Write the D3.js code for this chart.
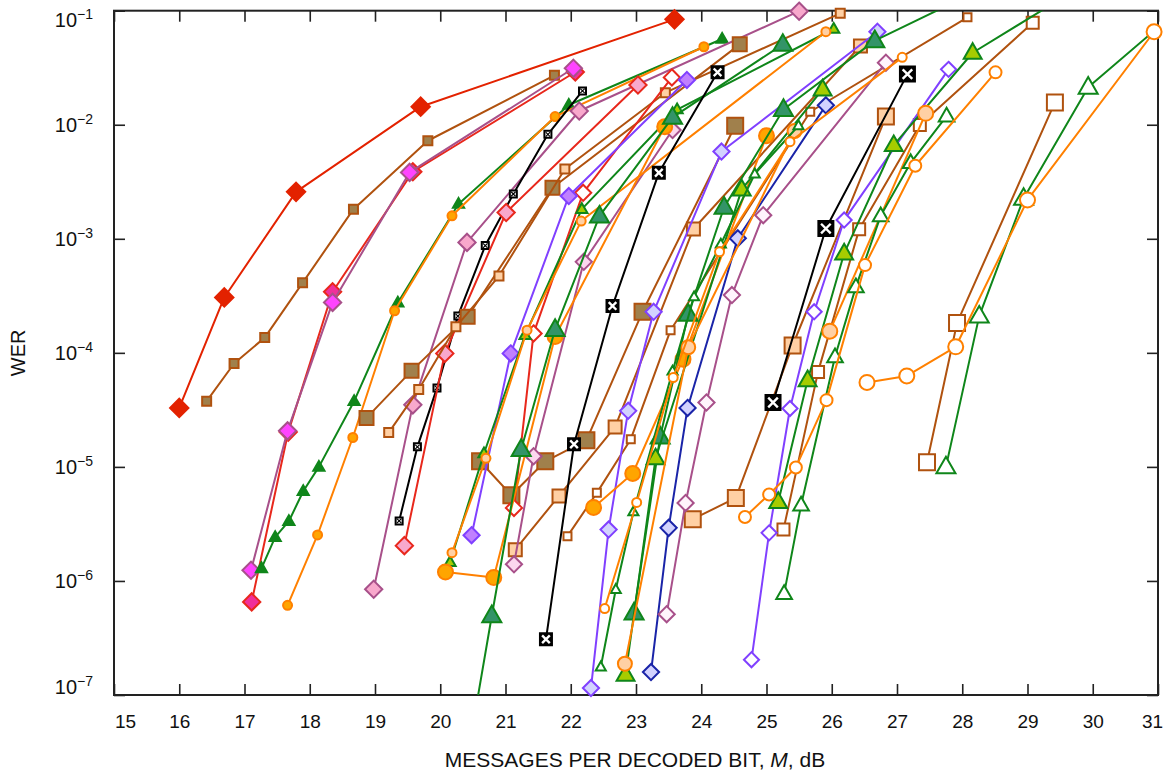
<!DOCTYPE html>
<html><head><meta charset="utf-8">
<script src="https://cdn.jsdelivr.net/npm/d3@7"></script>
<style>body{margin:0;background:#fff}svg{display:block}text{font-family:"Liberation Sans",Arial,sans-serif}</style>
</head><body>
<script>
// ---------- data ----------
const xTicks = [15,16,17,18,19,20,21,22,23,24,25,26,27,28,29,30,31];
const yTicks = [1e-1,1e-2,1e-3,1e-4,1e-5,1e-6,1e-7];
const yTickExp = ["−1","−2","−3","−4","−5","−6","−7"];
const xTitle = ["MESSAGES PER DECODED BIT, ","M",", dB"];
const yTitle = "WER";

const redSolidDiamond = [[16.00,3.29e-5],[16.69,3.06e-4],[17.79,2.58e-3],[19.70,1.44e-2],[23.59,8.4e-2]];
const oliveSmallSquare = [[16.42,3.77e-5],[16.84,8.07e-5],[17.31,1.36e-4],[17.89,4.11e-4],[18.67,1.82e-3],[19.81,7.24e-3],[21.75,2.71e-2]];
const crimsonDiamond = [[17.11,6.55e-7],[17.67,2.02e-5],[18.35,3.43e-4],[19.58,3.87e-3],[22.07,2.90e-2]];
const magentaDiamond = [[17.10,1.24e-6],[17.66,2.07e-5],[18.35,2.77e-4],[19.53,3.82e-3],[22.04,3.13e-2]];
const greenSmallTri = [[17.26,1.29e-6],[17.47,2.42e-6],[17.68,3.34e-6],[17.90,6.12e-6],[18.14,1.0e-5],[18.68,3.77e-5],[19.35,2.75e-4],[20.28,2.02e-3],[21.97,1.49e-2],[24.32,5.65e-2]];
const orangeSmallDot = [[17.66,6.12e-7],[18.12,2.53e-6],[18.66,1.81e-5],[19.30,2.34e-4],[20.18,1.59e-3],[21.76,1.18e-2],[24.04,4.83e-2]];
const pinkDiamond = [[18.98,8.45e-7],[19.58,3.50e-5],[20.41,9.30e-4],[22.13,1.32e-2],[25.50,9.9e-2]];
const blackSmallX = [[19.37,3.36e-6],[19.65,1.50e-5],[19.95,4.93e-5],[20.27,2.10e-4],[20.69,8.72e-4],[21.12,2.47e-3],[21.65,8.24e-3],[22.18,1.98e-2]];
const pinkRedDiamond = [[19.45,2.04e-6],[20.07,9.89e-5],[21.01,1.70e-3],[23.03,2.23e-2]];
const oliveMidSquare = [[18.87,2.69e-5],[19.56,6.95e-5],[20.42,2.07e-4],[21.72,2.80e-3],[24.59,5.07e-2]];
const oliveBigSquare = [[20.61,1.12e-5],[21.09,5.65e-6],[21.61,1.12e-5],[22.24,1.71e-5],[23.10,2.29e-4],[24.52,9.80e-3]];
const peachSmallSquare = [[19.21,2.00e-5],[19.67,4.78e-5],[20.24,1.69e-4],[20.90,4.71e-4],[21.91,4.09e-3],[23.45,1.91e-2],[26.13,9.49e-2]];
const peachMidSquare = [[21.15,1.88e-6],[21.82,5.57e-6],[22.68,2.24e-5],[23.88,1.22e-3],[26.44,4.90e-2]];
const peachBigSquare = [[23.87,3.48e-6],[24.53,5.35e-6],[25.40,1.16e-4],[26.83,1.18e-2]];
const whiteSmallSquare = [[21.95,2.47e-6],[22.40,5.92e-6],[22.92,1.75e-5],[23.53,1.58e-4],[25.67,1.30e-2],[28.08,8.75e-2]];
const whiteMidSquare = [[25.26,2.82e-6],[25.79,6.81e-5],[26.42,1.21e-3],[27.35,9.94e-3],[29.08,7.85e-2]];
const whiteBigSquare = [[27.46,1.10e-5],[27.92,1.83e-4],[29.42,1.57e-2]];
const redOpenDiamond = [[21.13,4.37e-6],[21.43,1.48e-4],[22.19,2.53e-3],[23.55,2.60e-2]];
const violetDiamond = [[20.48,2.52e-6],[21.08,9.89e-5],[21.97,2.37e-3],[23.78,2.47e-2]];
const lavenderDiamond = [[22.31,1.15e-7],[22.58,2.82e-6],[22.88,3.10e-5],[23.27,2.29e-4],[24.31,5.82e-3],[26.70,6.54e-2]];
const blueDiamond = [[23.23,1.59e-7],[23.50,2.92e-6],[23.79,3.29e-5],[24.56,1.01e-3],[25.91,1.48e-2]];
const palePinkDiamond = [[21.13,1.40e-6],[21.43,1.24e-5],[22.20,6.28e-4],[23.56,8.99e-3]];
const mauveOpenDiamond = [[23.47,5.11e-7],[23.76,4.83e-6],[24.08,3.67e-5],[24.47,3.21e-4],[24.95,1.61e-3],[26.83,3.50e-2]];
const purpleOpenDiamond = [[24.77,2.04e-7],[25.04,2.64e-6],[25.36,3.25e-5],[25.73,2.29e-4],[26.19,1.46e-3],[27.79,3.06e-2]];
const limeSmallTri = [[20.15,1.46e-6],[20.67,1.31e-5],[21.30,1.43e-4],[22.17,1.82e-3],[23.63,1.36e-2],[26.03,6.91e-2]];
const peachSmallDot = [[20.18,1.77e-6],[20.70,1.19e-5],[21.33,1.58e-4],[22.16,1.43e-3],[25.91,6.54e-2]];
const orangeBigDotA = [[20.08,1.20e-6],[20.82,1.07e-6],[21.76,1.39e-4],[23.44,9.60e-3]];
const orangeBigDotB = [[22.35,4.41e-6],[22.95,8.75e-6],[23.72,8.81e-5],[25.00,8.01e-3]];
const tealTriA = [[20.33,1.46e-8],[20.79,4.95e-7],[21.24,1.42e-5],[21.76,1.60e-4],[22.44,1.58e-3],[23.56,1.16e-2],[25.25,5.07e-2]];
const tealTriB = [[22.97,5.24e-7],[23.37,1.83e-5],[23.80,2.18e-4],[24.35,1.89e-3],[25.26,1.36e-2],[26.66,5.46e-2],[28.58,0.186]];
const limeTriA = [[22.84,1.51e-7],[23.30,1.19e-5],[24.62,2.71e-3],[25.86,2.04e-2]];
const peachDotA = [[22.83,1.88e-7],[23.80,1.12e-4],[25.43,8.81e-3]];
const limeTriB = [[25.18,4.93e-6],[25.63,5.76e-5],[26.19,7.45e-4],[26.95,6.64e-3],[28.16,4.28e-2],[30.11,0.206]];
const peachDotB = [[25.97,1.55e-4],[27.44,1.26e-2]];
const openSmallTri = [[22.46,1.76e-7],[22.69,8.41e-7],[22.96,4.03e-6],[23.56,6.91e-5],[23.89,3.10e-4],[24.30,8.99e-4],[24.82,3.70e-3],[25.49,9.80e-3]];
const openSmallDot = [[22.52,5.73e-7],[23.01,4.88e-6],[23.57,6.08e-5],[24.28,7.69e-4],[25.36,7.10e-3],[27.08,3.90e-2]];
const openMidTri = [[25.27,7.75e-7],[25.53,4.61e-6],[26.05,9.23e-5],[26.37,3.79e-4],[26.75,1.59e-3],[27.21,4.64e-3],[27.76,1.19e-2]];
const openMidDot = [[24.67,3.64e-6],[25.04,5.73e-6],[25.45,9.89e-6],[25.92,3.85e-5],[26.51,5.88e-4],[27.28,4.37e-3],[28.51,2.88e-2]];
const openBigTri = [[27.75,1.0e-5],[28.26,2.10e-4],[28.94,2.26e-3],[29.93,2.13e-2],[31.49,0.124]];
const openBigDot = [[26.54,5.50e-5],[27.15,6.28e-5],[27.90,1.13e-4],[29.00,2.19e-3],[30.94,6.54e-2]];
const blackMidX = [[21.62,3.08e-7],[22.05,1.58e-5],[22.64,2.58e-4],[23.35,3.79e-3],[24.25,2.88e-2]];
const blackBigX = [[25.10,3.67e-5],[25.91,1.23e-3],[27.16,2.78e-2]];

// ---------- styles ----------
const C = {red:"#e32200", crimson:"#e8281c", brown:"#b0520f", olive:"#a0804c", peach:"#ffd0a4",
  green:"#0f861a", teal:"#339468", lime:"#a6cc00", orange:"#ff8000", orangeFill:"#ffa500",
  mauve:"#a8508a", magenta:"#ff44ff", pink:"#f8a8cc", palePink:"#fcd6ee", purple:"#8040ff",
  violet:"#c080ff", lavender:"#d2d2ff", blue:"#1a24a8", black:"#000"};

const series = [
  {d:redSolidDiamond, line:C.red, shape:"diamond", fill:C.red, stroke:C.red, s:17},
  {d:oliveSmallSquare, line:C.brown, shape:"square", fill:C.olive, stroke:C.brown, s:9},
  {d:crimsonDiamond, line:C.crimson, shape:"diamond", fill:"#f0309a", stroke:C.crimson, s:16},
  {d:magentaDiamond, line:C.mauve, shape:"diamond", fill:C.magenta, stroke:C.mauve, s:16},
  {d:greenSmallTri, line:C.green, shape:"triangle", fill:C.green, stroke:C.green, s:10},
  {d:orangeSmallDot, line:C.orange, shape:"circle", fill:C.orangeFill, stroke:C.orange, s:9},
  {d:pinkDiamond, line:C.mauve, shape:"diamond", fill:C.pink, stroke:C.mauve, s:16},
  {d:blackSmallX, line:C.black, shape:"xsq", fill:"#fff", stroke:C.black, s:7},
  {d:pinkRedDiamond, line:C.crimson, shape:"diamond", fill:C.pink, stroke:C.crimson, s:16},
  {d:oliveMidSquare, line:C.brown, shape:"square", fill:C.olive, stroke:C.brown, s:14},
  {d:oliveBigSquare, line:C.brown, shape:"square", fill:C.olive, stroke:C.brown, s:16},
  {d:peachSmallSquare, line:C.brown, shape:"square", fill:C.peach, stroke:C.brown, s:9},
  {d:peachMidSquare, line:C.brown, shape:"square", fill:C.peach, stroke:C.brown, s:13},
  {d:peachBigSquare, line:C.brown, shape:"square", fill:C.peach, stroke:C.brown, s:16},
  {d:whiteSmallSquare, line:C.brown, shape:"square", fill:"#fff", stroke:C.brown, s:8},
  {d:whiteMidSquare, line:C.brown, shape:"square", fill:"#fff", stroke:C.brown, s:12},
  {d:whiteBigSquare, line:C.brown, shape:"square", fill:"#fff", stroke:C.brown, s:16},
  {d:redOpenDiamond, line:C.crimson, shape:"diamond", fill:"#fff", stroke:C.crimson, s:15},
  {d:violetDiamond, line:C.purple, shape:"diamond", fill:C.violet, stroke:C.purple, s:15},
  {d:lavenderDiamond, line:C.purple, shape:"diamond", fill:C.lavender, stroke:C.purple, s:15},
  {d:blueDiamond, line:C.blue, shape:"diamond", fill:C.lavender, stroke:C.blue, s:15},
  {d:palePinkDiamond, line:C.mauve, shape:"diamond", fill:C.palePink, stroke:C.mauve, s:15},
  {d:mauveOpenDiamond, line:C.mauve, shape:"diamond", fill:"#fff4fc", stroke:C.mauve, s:15},
  {d:purpleOpenDiamond, line:C.purple, shape:"diamond", fill:"#fff", stroke:C.purple, s:14},
  {d:limeSmallTri, line:C.green, shape:"triangle", fill:C.lime, stroke:C.green, s:10},
  {d:peachSmallDot, line:C.orange, shape:"circle", fill:C.peach, stroke:C.orange, s:9},
  {d:orangeBigDotA, line:C.orange, shape:"circle", fill:C.orangeFill, stroke:C.orange, s:15},
  {d:orangeBigDotB, line:C.orange, shape:"circle", fill:C.orangeFill, stroke:C.orange, s:15},
  {d:tealTriA, line:C.green, shape:"triangle", fill:C.teal, stroke:C.green, s:17},
  {d:tealTriB, line:C.green, shape:"triangle", fill:C.teal, stroke:C.green, s:17},
  {d:limeTriA, line:C.green, shape:"triangle", fill:C.lime, stroke:C.green, s:16},
  {d:peachDotA, line:C.orange, shape:"circle", fill:C.peach, stroke:C.orange, s:14},
  {d:limeTriB, line:C.green, shape:"triangle", fill:C.lime, stroke:C.green, s:16},
  {d:peachDotB, line:C.orange, shape:"circle", fill:C.peach, stroke:C.orange, s:15},
  {d:openSmallTri, line:C.green, shape:"triangle", fill:"#fff", stroke:C.green, s:9},
  {d:openSmallDot, line:C.orange, shape:"circle", fill:"#fff", stroke:C.orange, s:9},
  {d:openMidTri, line:C.green, shape:"triangle", fill:"#fff", stroke:C.green, s:14},
  {d:openMidDot, line:C.orange, shape:"circle", fill:"#fff", stroke:C.orange, s:12},
  {d:openBigTri, line:C.green, shape:"triangle", fill:"#fff", stroke:C.green, s:17},
  {d:openBigDot, line:C.orange, shape:"circle", fill:"#fff", stroke:C.orange, s:15},
  {d:blackMidX, line:C.black, shape:"xsq", fill:"#000", stroke:"#000", s:12},
  {d:blackBigX, line:C.black, shape:"xsq", fill:"#000", stroke:"#000", s:15}
];

// ---------- layout ----------
const W = 1163, H = 775;
const L = 114, R = 1158, T = 10.7, B = 695;
const x = d3.scaleLinear().domain([15, 31]).range([L, R]);
const y = d3.scaleLog().domain([1e-7, 1e-1]).range([B, T]);

const svg = d3.select("body").append("svg").attr("width", W).attr("height", H);
svg.append("defs").append("clipPath").attr("id", "plotclip")
  .append("rect").attr("x", L).attr("y", T).attr("width", R - L).attr("height", B - T);

// axes (ticks point inward)
const gx = svg.append("g").attr("transform", `translate(0,${B})`)
  .call(d3.axisBottom(x).tickValues(xTicks).tickSize(-11).tickPadding(20).tickFormat(d3.format("d")));
const gxt = svg.append("g").attr("transform", `translate(0,${T})`)
  .call(d3.axisTop(x).tickValues(xTicks).tickSize(-11).tickFormat(""));
const gy = svg.append("g").attr("transform", `translate(${L},0)`)
  .call(d3.axisLeft(y).tickValues(yTicks).tickSize(-11).tickPadding(22).tickFormat(""));
const gyr = svg.append("g").attr("transform", `translate(${R},0)`)
  .call(d3.axisRight(y).tickValues(yTicks).tickSize(-11).tickFormat(""));
[gx, gxt, gy, gyr].forEach(g => {
  g.select(".domain").remove();
  g.selectAll(".tick line").attr("stroke", "#222").attr("stroke-width", 1.6);
});
gx.selectAll(".tick text").attr("font-size", 19).attr("fill", "#111")
  .attr("font-family", "'Liberation Sans', Arial, sans-serif")
  .attr("dx", d => d === 15 ? 11 : (d === 31 ? -6 : 0));

// y tick labels: 10^k
gy.selectAll(".tick").each(function (d, i) {
  const g = d3.select(this);
  g.select("text").remove();
  const shift = i === 0 ? 9 : (i === yTicks.length - 1 ? -9 : 0);
  const t = g.append("text").attr("x", -21).attr("y", shift + 7).attr("text-anchor", "end")
    .attr("fill", "#111").attr("font-size", 20);
  t.append("tspan").text("10");
  t.append("tspan").attr("dy", -8).attr("font-size", 14).text(yTickExp[i]);
});

// border
svg.append("rect").attr("x", L).attr("y", T).attr("width", R - L).attr("height", B - T)
  .attr("fill", "none").attr("stroke", "#222").attr("stroke-width", 2);

// titles
svg.append("text").attr("transform", `translate(25,${(T + B) / 2}) rotate(-90)`)
  .attr("text-anchor", "middle").attr("font-size", 20).attr("fill", "#111").text(yTitle);
const xt = svg.append("text").attr("x", (L + R) / 2 - 1).attr("y", 767).attr("text-anchor", "middle")
  .attr("font-size", 21).attr("fill", "#111");
xt.append("tspan").text(xTitle[0]);
xt.append("tspan").attr("font-style", "italic").text(xTitle[1]);
xt.append("tspan").text(xTitle[2]);

// ---------- marks ----------
function shapePath(shape, s) {
  const h = s / 2;
  if (shape === "diamond") { const k = h * 1.08; return `M0,${-k}L${k},0L0,${k}L${-k},0Z`; }
  if (shape === "square" || shape === "xsq") return `M${-h},${-h}H${h}V${h}H${-h}Z`;
  if (shape === "triangle") return `M0,${-s * 0.6}L${s * 0.56},${s * 0.38}L${-s * 0.56},${s * 0.38}Z`;
  return `M${h},0A${h},${h} 0 1,1 ${-h},0A${h},${h} 0 1,1 ${h},0Z`;
}
const line = d3.line().x(d => x(d[0])).y(d => y(d[1]));
const plot = svg.append("g");
series.forEach(sr => {
  const g = plot.append("g");
  g.append("path").attr("d", line(sr.d)).attr("fill", "none").attr("stroke", sr.line)
    .attr("stroke-width", 2).attr("clip-path", "url(#plotclip)").attr("stroke-linejoin", "round");
  const pts = sr.d.filter(d => d[0] >= 15 && d[0] <= 31 && d[1] >= 1e-7 && d[1] <= 1e-1);
  const m = g.selectAll("g.m").data(pts).enter().append("g")
    .attr("transform", d => `translate(${x(d[0])},${y(d[1])})`);
  m.append("path").attr("d", shapePath(sr.shape, sr.s)).attr("fill", sr.fill)
    .attr("stroke", sr.stroke).attr("stroke-width", 2).attr("stroke-linejoin", "miter");
  if (sr.shape === "xsq") {
    const k = sr.s * 0.32;
    m.append("path").attr("d", `M${-k},${-k}L${k},${k}M${k},${-k}L${-k},${k}`)
      .attr("stroke", sr.fill === "#000" ? "#fff" : "#000").attr("stroke-width", sr.s > 10 ? 2.4 : 1.2);
  }
});
</script>
</body></html>
